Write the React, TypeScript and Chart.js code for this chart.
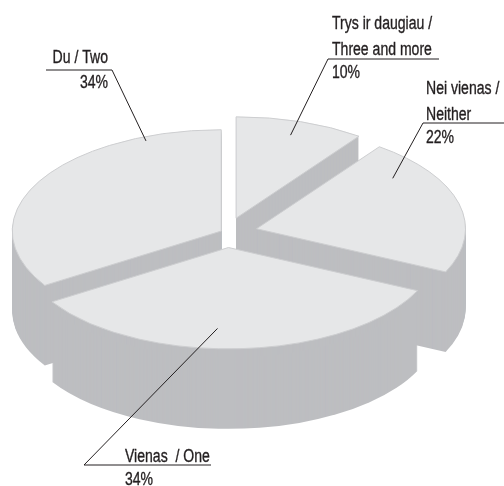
import React, { useEffect, useRef } from "react";
import { Chart, registerables } from "chart.js";

Chart.register(...registerables);

// ---- data ----
const categories = ["Trys ir daugiau / Three and more", "Nei vienas / Neither", "Vienas / One", "Du / Two"];
const shares = [10, 22, 34, 34];
const labelTexts = [["Trys ir daugiau /", "Three and more"], ["Nei vienas /", "Neither"], ["Vienas  / One"], ["Du / Two"]];

// ---- styles / layout ----
const explode = [31, 31, 31, 6];
const TOP_COLOR = "#e6e7e8";
const EDGE_COLOR = "#cdced0";
const SIDE_COLOR = "#bdbec1";
const TILT = 0.485;
const DEPTH = 80;
const FONT = '"Liberation Sans", Arimo, Arial, sans-serif';
const FONT_SIZE = 18;
const TEXT_SCALE_X = 0.78;

// t: position along slice (0..1), rf: fraction of radius
const labelLayout = [
  { t: 0.49, rf: 0.86, ex: 328, ey: 59, endX: 439, tx: 332, align: "left", base: [29, 55], pct: 78 },
  { t: 0.21, rf: 0.82, ex: 423, ey: 123, endX: 504, tx: 426, align: "left", base: [94, 120], pct: 143 },
  { t: 0.56, rf: 0.8, ex: 84, ey: 465, endX: 211, tx: 125, align: "left", base: [462], pct: 485 },
  { t: 0.82, rf: 0.96, ex: 112, ey: 70, endX: 46, tx: 108, align: "right", base: [63], pct: 88 },
];

type Geo = { ox: number; oy: number; r: number; s: number; e: number; bg: string; bc: string; bw: number };

function computeGeo(chart: any): Geo[] {
  const meta = chart.getDatasetMeta(0);
  return meta.data.map((a: any) => {
    const p = a.getProps(["x", "y", "startAngle", "endAngle", "outerRadius"], true);
    const mid = (p.startAngle + p.endAngle) / 2;
    const d = a.options.offset || 0;
    const ox = p.x + Math.cos(mid) * d;
    const oyRaw = p.y + Math.sin(mid) * d;
    const oy = p.y + (oyRaw - p.y) * TILT;
    return {
      ox,
      oy,
      r: p.outerRadius,
      s: p.startAngle,
      e: p.endAngle,
      bg: a.options.backgroundColor,
      bc: a.options.borderColor,
      bw: a.options.borderWidth,
    };
  });
}

function narrowText(ctx: CanvasRenderingContext2D, text: string, x: number, y: number) {
  ctx.save();
  ctx.translate(x, y);
  ctx.scale(TEXT_SCALE_X, 1);
  ctx.fillText(text, 0, 0);
  ctx.lineWidth = 0.35;
  ctx.strokeText(text, 0, 0);
  ctx.restore();
}

const pie3d = {
  id: "pie3d",
  beforeDatasetsDraw(chart: any) {
    const ctx: CanvasRenderingContext2D = chart.ctx;
    const geo = computeGeo(chart);
    const path = (g: Geo, dy: number) => {
      ctx.beginPath();
      ctx.moveTo(g.ox, g.oy + dy);
      ctx.ellipse(g.ox, g.oy + dy, g.r, g.r * TILT, 0, g.s, g.e);
      ctx.closePath();
    };
    ctx.save();
    ctx.fillStyle = SIDE_COLOR;
    for (let dy = DEPTH; dy >= 1; dy--) {
      for (const g of geo) {
        path(g, dy);
        ctx.fill();
      }
    }
    for (const g of geo) {
      path(g, 0);
      ctx.fillStyle = g.bg;
      ctx.fill();
      ctx.strokeStyle = g.bc;
      ctx.lineWidth = g.bw;
      ctx.stroke();
    }
    ctx.restore();
    return false;
  },
  afterDraw(chart: any) {
    const ctx: CanvasRenderingContext2D = chart.ctx;
    const geo = computeGeo(chart);
    ctx.save();
    ctx.font = `${FONT_SIZE}px ${FONT}`;
    ctx.fillStyle = "#231f20";
    ctx.strokeStyle = "#231f20";
    ctx.lineWidth = 1;
    ctx.textBaseline = "alphabetic";
    geo.forEach((g, i) => {
      const L = labelLayout[i];
      const ang = g.s + (g.e - g.s) * L.t;
      const r = g.r * L.rf;
      const ax = g.ox + Math.cos(ang) * r;
      const ay = g.oy + Math.sin(ang) * r * TILT;
      ctx.beginPath();
      ctx.moveTo(ax, ay);
      ctx.lineTo(L.ex, L.ey);
      ctx.lineTo(L.endX, L.ey);
      ctx.stroke();
      ctx.textAlign = L.align as CanvasTextAlign;
      labelTexts[i].forEach((line, j) => narrowText(ctx, line, L.tx, L.base[j]));
      narrowText(ctx, `${shares[i]}%`, L.tx, L.pct);
    });
    ctx.restore();
  },
};

export default function App() {
  const ref = useRef<HTMLCanvasElement>(null);
  useEffect(() => {
    if (!ref.current) return;
    const chart = new Chart(ref.current, {
      type: "pie",
      data: {
        labels: categories,
        datasets: [
          {
            data: shares,
            backgroundColor: TOP_COLOR,
            borderColor: EDGE_COLOR,
            borderWidth: 1,
            offset: explode,
          } as any,
        ],
      },
      options: {
        responsive: false,
        animation: false,
        events: [],
        radius: 209,
        layout: { padding: { left: 0, right: 51, top: 0, bottom: 21 } },
        plugins: { legend: { display: false }, tooltip: { enabled: false }, title: { display: false } },
      } as any,
      plugins: [pie3d as any],
    });
    return () => chart.destroy();
  }, []);
  return (
    <div style={{ position: "fixed", left: 0, top: 0, width: 504, height: 486, background: "#fff" }}>
      <canvas ref={ref} width={504} height={486} style={{ width: 504, height: 486, display: "block" }} />
    </div>
  );
}
